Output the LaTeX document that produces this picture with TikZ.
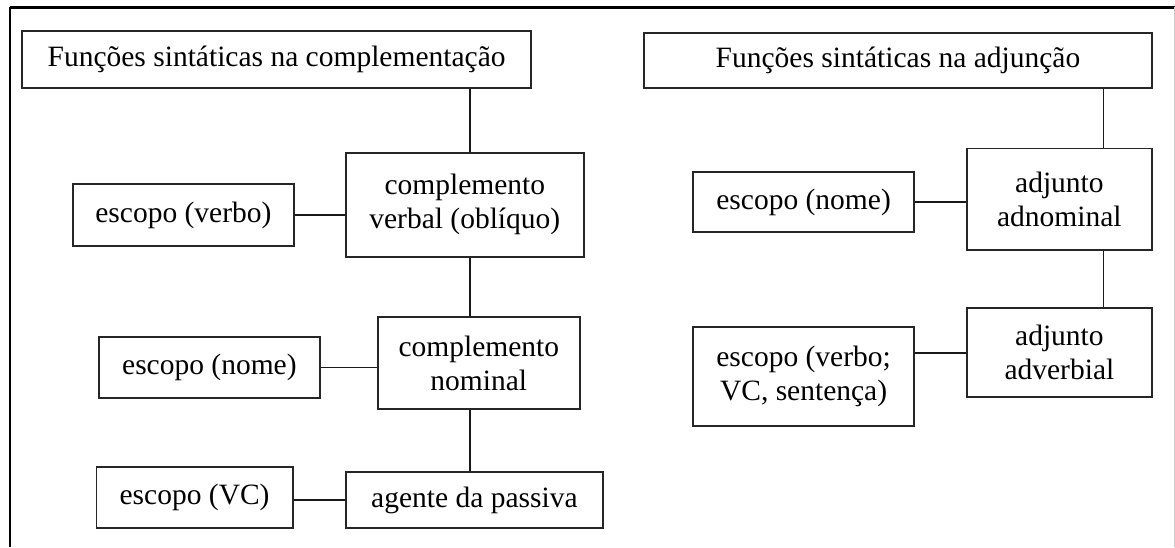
\documentclass[tikz,border=0pt]{standalone}
\usepackage{fontspec}
\setmainfont{Liberation Serif}
\begin{document}
\begin{tikzpicture}[x=1pt,y=-1pt,
  fbox/.style={draw=black!85, line width=1.8pt, align=center, inner sep=0pt,
    font=\fontsize{29.5}{34}\selectfont, fill=white},
  link/.style={draw=black!90, line width=1.8pt}]
\useasboundingbox (0,0) rectangle (1175,547);
% outer frame
\draw[line width=3pt] (10,7) -- (1175,7);
\draw[line width=2.2pt] (10,7) -- (10,547);
\draw[line width=1pt, black!20] (1174,7) -- (1174,547);

% left column
\node[fbox, minimum width=508.8pt, minimum height=57.3pt] (titleL) at (276.6,59.7) {Funções sintáticas na complementação};
\node[fbox, minimum width=237.6pt, minimum height=104pt] (cvo) at (464.8,204.7) {complemento\\verbal (oblíquo)};
\node[fbox, minimum width=221.3pt, minimum height=62.7pt] (escVerbo) at (183.4,215.0) {escopo (verbo)};
\node[fbox, minimum width=202.1pt, minimum height=92.6pt] (nominal) at (478.8,363) {complemento\\nominal};
\node[fbox, minimum width=221.3pt, minimum height=61.3pt] (escNome) at (209.4,367.4) {escopo (nome)};
\node[fbox, minimum width=256.7pt, minimum height=56pt] (agente) at (474.4,500) {agente da passiva};
\node[fbox, minimum width=196.4pt, minimum height=61pt] (escVC) at (194.6,497.8) {escopo (VC)};

% right column
\node[fbox, minimum width=508pt, minimum height=55pt] (titleR) at (898,60.5) {Funções sintáticas na adjunção};
\node[fbox, minimum width=185.3pt, minimum height=101.3pt] (adnom) at (1059.4,199.2) {adjunto\\adnominal};
\node[fbox, minimum width=221.5pt, minimum height=60pt] (escNomeR) at (803.6,202) {escopo (nome)};
\node[fbox, minimum width=185.3pt, minimum height=89.5pt] (adverb) at (1059.4,352.6) {adjunto\\adverbial};
\node[fbox, minimum width=221.5pt, minimum height=99pt] (escVerboR) at (803.6,376.5) {escopo (verbo;\\VC, sentença)};

% spines
\coordinate (lspine) at (470,0);
\coordinate (rspine) at (1103.5,0);

% left connectors
\draw[link] (titleL.south -| lspine) -- (cvo.north -| lspine);
\draw[link] (cvo.south -| lspine) -- (nominal.north -| lspine);
\draw[link] (nominal.south -| lspine) -- (agente.north -| lspine);
\draw[link] (escVerbo.east) -- (escVerbo.east -| cvo.west);
\draw[link] (escNome.east) -- (escNome.east -| nominal.west);
\draw[link] (agente.west) -- (agente.west -| escVC.east);

% right connectors
\draw[link] (titleR.south -| rspine) -- (adnom.north -| rspine);
\draw[link] (adnom.south -| rspine) -- (adverb.north -| rspine);
\draw[link] (escNomeR.east) -- (escNomeR.east -| adnom.west);
\draw[link] (adverb.west) -- (adverb.west -| escVerboR.east);
\end{tikzpicture}
\end{document}
